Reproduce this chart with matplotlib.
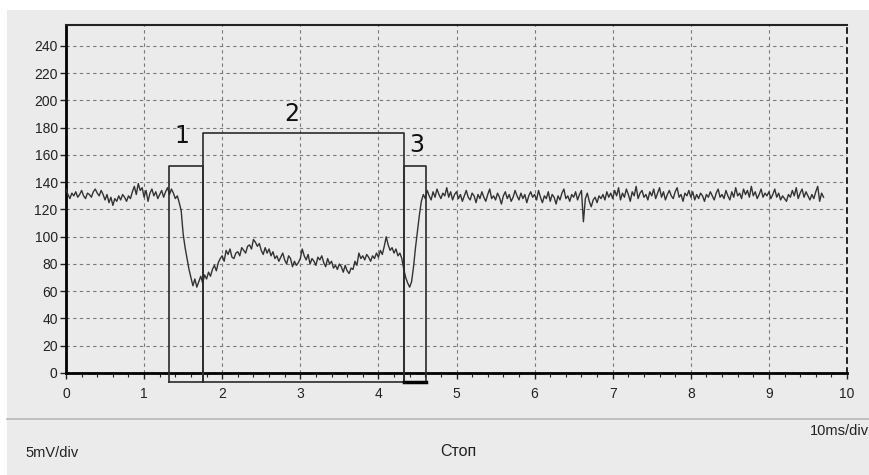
import numpy as np
import matplotlib
matplotlib.use("Agg")
import matplotlib.pyplot as plt
from matplotlib.patches import Rectangle
from matplotlib.lines import Line2D

# trace samples, one every 0.025 ms-div (rows of 0.5 div)
dt = 0.025
signal = [
    135, 131, 128, 132, 130, 133, 129, 131, 134, 130, 128, 132, 131, 129, 133, 135, 132, 130, 134, 131,
    127, 131, 125, 129, 123, 128, 126, 130, 127, 131, 129, 126, 130, 128, 133, 137, 131, 139, 134, 136,
    129, 134, 126, 132, 135, 130, 133, 128, 131, 134, 129, 133, 136, 131, 135, 132, 128, 130, 125, 119,
    102, 92, 84, 76, 70, 64, 69, 63, 67, 71, 66, 72, 69, 74, 71, 76, 79, 75, 81, 84,
    86, 82, 90, 87, 91, 85, 84, 88, 89, 86, 92, 90, 88, 93, 94, 91, 98, 96, 93, 95,
    90, 87, 92, 88, 91, 86, 89, 84, 86, 82, 85, 88, 83, 80, 86, 84, 78, 82, 79, 81,
    84, 91, 86, 83, 87, 80, 84, 82, 79, 85, 83, 86, 81, 78, 84, 80, 82, 77, 79, 76,
    80, 78, 74, 79, 75, 73, 77, 76, 82, 79, 88, 84, 86, 83, 87, 85, 82, 86, 84, 88,
    85, 90, 87, 93, 100, 94, 90, 92, 88, 91, 86, 88, 84, 76, 70, 66, 63, 67, 78, 92,
    104, 116, 126, 131, 128, 134, 130, 127, 133, 129, 135, 131, 128, 132, 130, 136, 129, 133, 127, 131,
    133, 128, 131, 126, 130, 134, 129, 127, 132, 130, 125, 131, 128, 133, 129, 126, 131, 135, 128, 130,
    127, 132, 129, 124, 130, 133, 128, 131, 126, 129, 134, 130, 127, 132, 128, 131, 125, 130, 133, 129,
    131, 127, 134, 129, 125, 130, 128, 133, 126, 131, 129, 124, 130, 127, 132, 135, 128, 130, 126, 131,
    129, 133, 127, 131, 134, 111, 128, 132, 126, 122, 127, 129, 125, 130, 128, 131, 127, 133, 129, 132,
    128, 134, 130, 136, 127, 132, 129, 135, 131, 126, 133, 130, 137, 128, 132, 134, 129, 131, 127, 133,
    130, 135, 128, 132, 136, 129, 133, 127, 131, 134, 130, 128, 133, 136, 129, 131, 126, 132, 130, 134,
    129, 133, 127, 131, 128, 132, 130, 126, 131, 129, 133, 130, 127, 132, 135, 129, 131, 128, 134, 130,
    127, 133, 129, 136, 130, 132, 128, 135, 131, 134, 129, 137, 130, 133, 128, 131, 135, 129, 132, 130,
    133, 128, 131, 135, 129, 132, 127, 130, 128, 126, 131, 129, 134, 130, 136, 128, 132, 135, 129, 133,
    130, 127, 131, 128, 133, 137, 126, 132, 129,
]

# phase brackets 1, 2, 3
edges = [1.32, 1.76, 4.33, 4.61]
tops = [152, 176, 152]
labels = ["1", "2", "3"]
label_x = [1.48, 2.89, 4.49]
label_y = [174, 190, 167]
bottom = -6.5

x_ticks = list(range(0, 11))
y_ticks = list(range(0, 241, 20))

bg = "#ebebeb"
fig = plt.figure(figsize=(8.69, 4.75), dpi=100, facecolor="white")
fig.patches.append(Rectangle((7 / 869, 0), 1, 1 - 10 / 475, transform=fig.transFigure,
                             facecolor=bg, edgecolor="none", zorder=-10))
fig.lines.append(Line2D([7 / 869, 1], [1 - 419 / 475] * 2, transform=fig.transFigure,
                        color="#b8b8b8", lw=1.2))

ax = fig.add_axes([66 / 869, 1 - 373 / 475, (847 - 66) / 869, (373 - 25) / 475])
ax.set_zorder(1)
ax.set_facecolor(bg)

t = np.arange(len(signal)) * dt
ax.plot(t, signal, color="#333333", lw=1.0, zorder=3)

# brackets
for i in range(3):
    x0, x1 = edges[i], edges[i + 1]
    ax.plot([x0, x0, x1, x1], [bottom, tops[i], tops[i], bottom], color="#2a2a2a",
            lw=1.2, clip_on=False, zorder=4)
    ax.text(label_x[i], label_y[i], labels[i], fontsize=17, ha="center", va="center",
            family="DejaVu Sans", color="#111111")
ax.plot([edges[0], edges[-1]], [bottom, bottom], color="#2a2a2a", lw=1.2, clip_on=False, zorder=4)
ax.plot([edges[2], edges[3]], [bottom, bottom], color="black", lw=2.5, clip_on=False, zorder=4)

ax.set_xlim(0, 10)
ax.set_ylim(0, 255.4)
ax.set_xticks(x_ticks)
ax.set_yticks(y_ticks)
ax.set_xticks(np.arange(0, 10.01, 0.2), minor=True)
ax.grid(True, which="major", color="#7a7a7a", linestyle=(0, (3, 3)), lw=0.8)
ax.set_axisbelow(True)

for lab in ax.get_xticklabels() + ax.get_yticklabels():
    lab.set_family("Liberation Sans")
ax.tick_params(axis="x", which="major", length=4, width=1, pad=6, labelsize=10, colors="#222222")
ax.tick_params(axis="x", which="minor", length=3, width=0.8, colors="#222222")
ax.tick_params(axis="y", which="major", length=4, width=1, pad=2, labelsize=10, colors="#222222")

ax.spines["left"].set_linewidth(2)
ax.spines["bottom"].set_linewidth(2)
ax.spines["top"].set_linewidth(1.5)
ax.spines["top"].set_color("#222222")
ax.spines["right"].set_linestyle((0, (3, 3)))
ax.spines["right"].set_linewidth(1.2)

fig.text(25 / 869, 1 - 453 / 475, "5mV/div", fontsize=10.5, ha="left", va="center",
         family="Liberation Sans", color="#222222")
fig.text(458 / 869, 1 - 451 / 475, "Стоп", fontsize=11.5, ha="center", va="center",
         family="Liberation Sans", color="#222222")
fig.text(1.0, 1 - 431 / 475, "10ms/div", fontsize=10.5, ha="right", va="center",
         family="Liberation Sans", color="#222222")

fig.savefig("out.png", dpi=100, facecolor=fig.get_facecolor())
